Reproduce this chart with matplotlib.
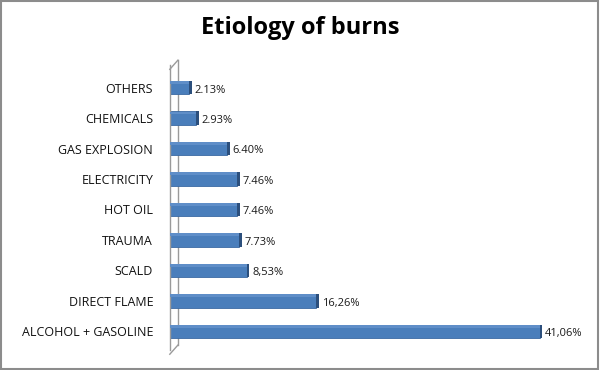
import matplotlib.pyplot as plt
from matplotlib.patches import Rectangle

# data (bottom to top)
categories = ['ALCOHOL + GASOLINE', 'DIRECT FLAME', 'SCALD', 'TRAUMA', 'HOT OIL',
              'ELECTRICITY', 'GAS EXPLOSION', 'CHEMICALS', 'OTHERS']
values = [41.06, 16.26, 8.53, 7.73, 7.46, 7.46, 6.40, 2.93, 2.13]
value_labels = ['41,06%', '16,26%', '8,53%', '7.73%', '7.46%',
                '7.46%', '6.40%', '2.93%', '2.13%']

plt.rcParams['font.family'] = ['Open Sans', 'DejaVu Sans']

fig = plt.figure(figsize=(6, 3.7), dpi=100)
# grey frame round the whole picture
fig.patches.append(Rectangle((0.002, 0.003), 0.995, 0.993, transform=fig.transFigure,
                             fill=False, edgecolor='#8c8c8c', linewidth=1.5))

fig.text(0.5, 0.925, 'Etiology of burns', ha='center', va='center',
         fontsize=17, fontweight='bold', color='black')

ax = fig.add_axes([0.283, 0.055, 0.65, 0.77])
y = list(range(len(categories)))

# front face + top rim + dark right cap to fake the 3d look
ax.barh(y, values, height=0.45, color='#4a7ebb', edgecolor='#3b6aa3', linewidth=0.6, zorder=2)
ax.barh([v + 0.17 for v in y], values, height=0.09, color='#5f8ec8', edgecolor='none', zorder=3)
ax.barh(y, [0.3] * len(values), left=values, height=0.45, color='#2c4f7c',
        edgecolor='none', zorder=3)

for yi, v, lab in zip(y, values, value_labels):
    ax.text(v + 0.6, yi - 0.08, lab, va='center', ha='left', fontsize=8, color='#1a1a1a')

ax.set_yticks(y)
ax.set_yticklabels(categories, fontsize=9, color='#111111')
ax.tick_params(axis='y', length=0, pad=12)
ax.set_xticks([])
ax.set_xlim(0, 43.3)
ax.set_ylim(-0.6, 8.75)

for s in ['top', 'right', 'bottom']:
    ax.spines[s].set_visible(False)
ax.spines['left'].set_color('#9a9a9a')
ax.spines['left'].set_linewidth(1.0)
# back wall edge of the 3d floor
ax.plot([0.9, 0.9], [-0.45, 8.9], color='#9a9a9a', lw=1.0, clip_on=False, zorder=1)
ax.plot([0, 0.9], [-0.75, -0.45], color='#9a9a9a', lw=1.0, clip_on=False, zorder=1)
ax.plot([0, 0.9], [8.6, 8.9], color='#9a9a9a', lw=1.0, clip_on=False, zorder=1)

plt.savefig('out.png', dpi=100)
